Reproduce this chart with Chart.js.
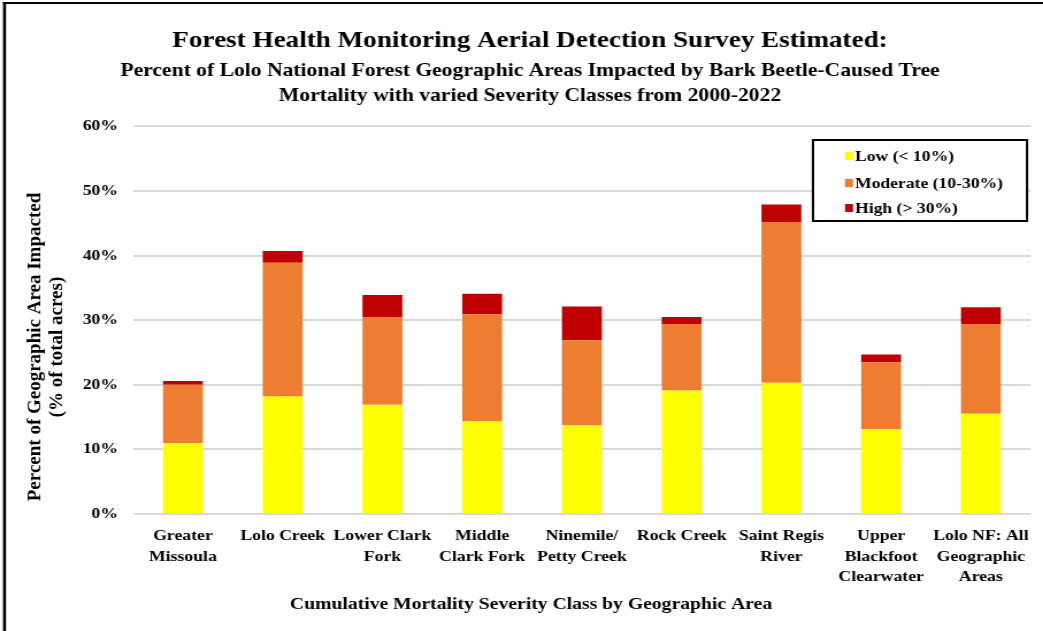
<!DOCTYPE html>
<html>
<head>
<meta charset="utf-8">
<script src="https://cdn.jsdelivr.net/npm/chart.js@4"></script>
<style>
  html, body { margin: 0; padding: 0; background: #fff; overflow: hidden; }
  /* the reference text is set wide, so the whole chart is drawn narrow and stretched */
  #wrap { width: 907px; height: 631px; transform: scaleX(1.15); transform-origin: 0 0; }
</style>
</head>
<body>
<div id="wrap"><canvas id="myChart" width="907" height="631"></canvas></div>
<script>
// values, in percent of total acres
const areas = [
  ['Greater', 'Missoula'],
  ['Lolo Creek'],
  ['Lower Clark', 'Fork'],
  ['Middle', 'Clark Fork'],
  ['Ninemile/', 'Petty Creek'],
  ['Rock Creek'],
  ['Saint Regis', 'River'],
  ['Upper', 'Blackfoot', 'Clearwater'],
  ['Lolo NF: All', 'Geographic', 'Areas']
]
const lowSeverity = [11.0, 18.2, 16.9, 14.3, 13.7, 19.1, 20.3, 13.1, 15.5]
const moderateSeverity = [9.0, 20.7, 13.6, 16.6, 13.2, 10.3, 24.9, 10.4, 13.9]
const highSeverity = [0.6, 1.8, 3.4, 3.2, 5.2, 1.1, 2.7, 1.2, 2.6]
const yTicks = [0, 10, 20, 30, 40, 50, 60]

const SERIF = '"Liberation Serif", "Times New Roman", serif'
const SX = 1.15  // must match the css scaleX

// frame, axis titles and the boxed legend are drawn by hand
const extras = {
  id: 'extras',
  beforeDraw(chart) {
    const c = chart.ctx
    c.save()
    c.fillStyle = '#fff'
    c.fillRect(0, 0, chart.width, chart.height)
    c.fillStyle = '#000'
    c.fillRect(3 / SX, 2, chart.width, 2)
    c.fillRect(3 / SX, 2, 3 / SX, chart.height)
    c.restore()
  },
  afterDraw(chart) {
    const c = chart.ctx
    c.save()
    c.fillStyle = '#000'
    c.textAlign = 'center'
    c.textBaseline = 'middle'

    // x axis title
    c.font = 'bold 17.1px ' + SERIF
    c.fillText('Cumulative Mortality Severity Class by Geographic Area', 531 / SX, 605)

    // y axis title, undo the stretch so it keeps its shape
    c.save()
    c.translate(35 / SX, 347)
    c.scale(1 / SX, 1)
    c.rotate(-Math.PI / 2)
    c.font = 'bold 19px ' + SERIF
    c.fillText('Percent of Geographic Area Impacted', 0, 0)
    c.fillText('(% of total acres)', 0, 22)
    c.restore()

    // legend
    const bx = 813 / SX, bw = 214 / SX
    c.fillStyle = '#fff'
    c.fillRect(bx, 140, bw, 81)
    c.strokeStyle = '#000'
    c.lineWidth = 2
    c.strokeRect(bx, 140, bw, 81)
    c.textAlign = 'left'
    c.font = 'bold 15.3px ' + SERIF
    const rows = [156, 183, 208]
    chart.data.datasets.forEach((ds, i) => {
      c.fillStyle = ds.backgroundColor
      c.fillRect(845 / SX, rows[i] - 4, 8 / SX, 8)
      c.fillStyle = '#000'
      c.fillText(ds.label, 855 / SX, rows[i] + 1)
    })
    c.restore()
  }
}

const ctx = document.getElementById('myChart')
const myChart = new Chart(ctx, {
  type: 'bar',
  data: {
    labels: areas,
    datasets: [{
      label: 'Low (< 10%)',
      data: lowSeverity,
      backgroundColor: '#FFFF00'
    },
    {
      label: 'Moderate (10-30%)',
      data: moderateSeverity,
      backgroundColor: '#ED7D31'
    },
    {
      label: 'High (> 30%)',
      data: highSeverity,
      backgroundColor: '#C00000'
    }]
  },
  plugins: [extras],
  options: {
    responsive: false,
    animation: false,
    events: [],
    datasets: {
      bar: {
        barPercentage: 0.8,
        categoryPercentage: 0.5
      }
    },
    layout: {
      padding: { left: 25.3, right: 10.5, top: 0, bottom: 0 }
    },
    scales: {
      x: {
        stacked: true,
        grid: { display: false, drawTicks: false },
        border: { display: false },
        ticks: {
          padding: 12,
          color: '#000',
          maxRotation: 0,
          autoSkip: false,
          font: { family: SERIF, size: 15.4, weight: 'bold', lineHeight: 1.33 }
        },
        afterFit(scale) { scale.height = 117 }
      },
      y: {
        stacked: true,
        min: 0,
        max: 60,
        afterBuildTicks(scale) {
          scale.ticks = yTicks.map(v => ({ value: v }))
        },
        grid: { color: '#D9D9D9', lineWidth: 2, drawTicks: false },
        border: { display: false },
        ticks: {
          padding: 13,
          color: '#000',
          font: { family: SERIF, size: 15.4, weight: 'bold' },
          callback: v => v + '%'
        },
        afterFit(scale) { scale.width = 90.4 }
      }
    },
    plugins: {
      legend: { display: false },
      tooltip: { enabled: false },
      title: {
        display: true,
        text: 'Forest Health Monitoring Aerial Detection Survey Estimated:',
        color: '#000',
        font: { family: SERIF, size: 23.6, weight: 'bold', lineHeight: 1.2 },
        padding: { top: 27, bottom: 0 }
      },
      subtitle: {
        display: true,
        text: ['Percent of Lolo National Forest Geographic Areas Impacted by Bark Beetle-Caused Tree',
               'Mortality with varied Severity Classes from 2000-2022'],
        color: '#000',
        font: { family: SERIF, size: 18.8, weight: 'bold', lineHeight: 1.33 },
        padding: { top: 3, bottom: 18 }
      }
    }
  }
})
</script>
</body>
</html>
